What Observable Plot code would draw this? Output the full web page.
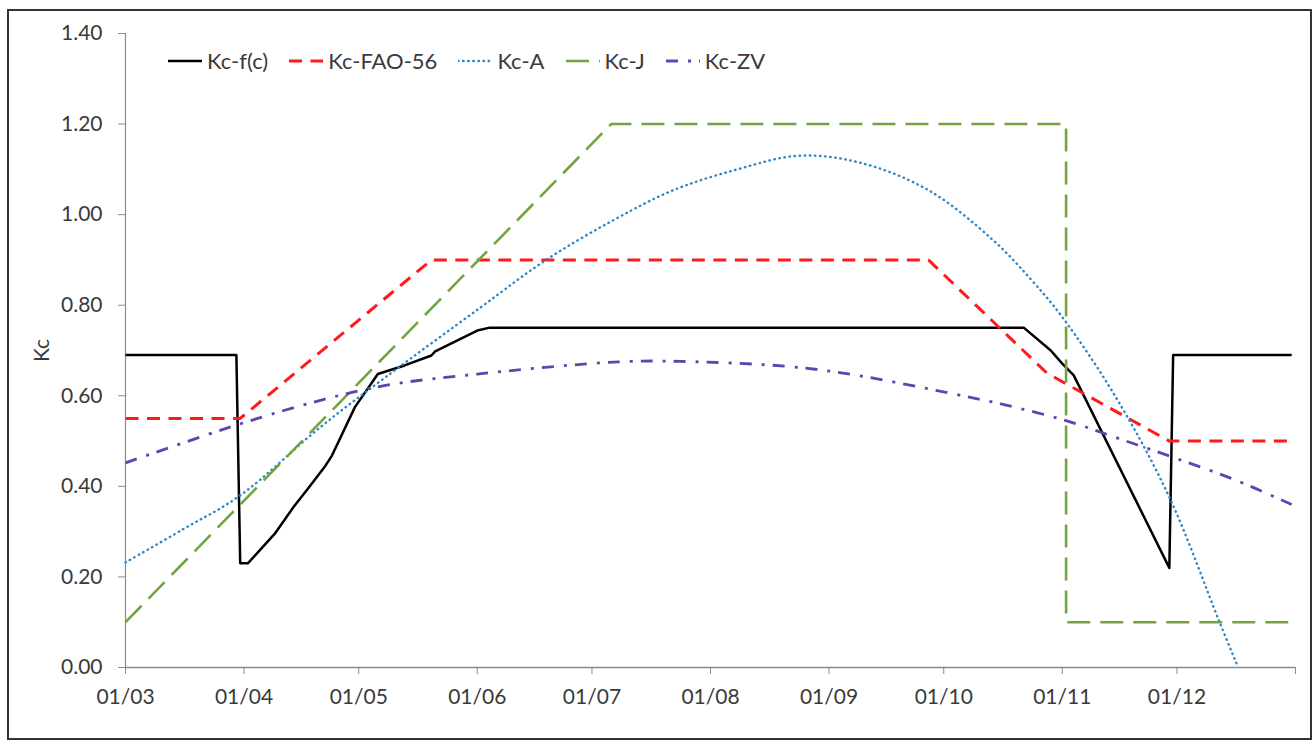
<!DOCTYPE html>
<html>
<head>
<meta charset="utf-8">
<script src="https://cdn.jsdelivr.net/npm/d3@7"></script>
<script src="https://cdn.jsdelivr.net/npm/@observablehq/plot@0.6"></script>
<style>
  body { margin: 0; background: #fff; }
  #wrap { position: relative; width: 1312px; height: 740px; overflow: hidden; font-family: Lato, sans-serif; }
  #chart { position: absolute; left: 0; top: 0; }
  #frame { position: absolute; left: 7px; top: 9px; width: 1305px; height: 731px; border: 2px solid #333; box-sizing: border-box; pointer-events: none; z-index: 2; }
  #legend { position: absolute; left: 168px; top: 48px; display: flex; align-items: center; gap: 21px; font-size: 22px; line-height: 26px; color: #3a3a3a; z-index: 3; }
  .item { display: flex; align-items: center; }
  .item svg { margin-right: 5px; }
</style>
</head>
<body>
<div id="wrap">
  <div id="chart"></div>
  <div id="legend"></div>
  <div id="frame"></div>
</div>
<script>
// ---------------- data ----------------
const seriesNames = ["Kc-f(c)", "Kc-FAO-56", "Kc-A", "Kc-J", "Kc-ZV"];

const fcDates  = ["2023-03-01","2023-03-30","2023-03-31","2023-04-02","2023-04-09","2023-04-14","2023-04-18","2023-04-22","2023-04-24","2023-04-30","2023-05-06","2023-05-13","2023-05-20","2023-05-21","2023-06-01","2023-06-04","2023-10-22","2023-10-29","2023-11-01","2023-11-04","2023-11-29","2023-11-30","2023-12-31"];
const fcValues = [0.69,0.69,0.23,0.23,0.295,0.355,0.398,0.442,0.468,0.575,0.648,0.667,0.689,0.698,0.744,0.75,0.75,0.70,0.671,0.645,0.22,0.69,0.69];

const faoDates  = ["2023-03-01","2023-03-31","2023-05-20","2023-09-27","2023-10-28","2023-11-29","2023-12-31"];
const faoValues = [0.55,0.55,0.90,0.90,0.65,0.50,0.50];

const aDates  = ["2023-03-01","2023-03-16","2023-03-31","2023-04-21","2023-05-08","2023-06-02","2023-06-19","2023-07-06","2023-07-22","2023-08-08","2023-08-24","2023-09-09","2023-09-27","2023-10-14","2023-10-24","2023-11-01","2023-11-15","2023-11-29","2023-12-12","2023-12-17"];
const aValues = [0.232,0.305,0.38,0.531,0.641,0.796,0.90,0.985,1.053,1.10,1.13,1.115,1.054,0.943,0.855,0.774,0.597,0.376,0.103,0.0];

const jDates  = ["2023-03-01","2023-07-06","2023-11-02","2023-11-02","2023-12-31"];
const jValues = [0.10,1.20,1.20,0.10,0.10];

const zvDates  = ["2023-03-01","2023-03-31","2023-04-21","2023-05-08","2023-06-01","2023-07-08","2023-07-24","2023-08-21","2023-09-07","2023-10-03","2023-10-17","2023-11-02","2023-11-16","2023-11-30","2023-12-16","2023-12-31"];
const zvValues = [0.452,0.538,0.59,0.623,0.648,0.675,0.676,0.665,0.647,0.605,0.58,0.545,0.505,0.464,0.415,0.36];

const xTickDates  = ["2023-03-01","2023-04-01","2023-05-01","2023-06-01","2023-07-01","2023-08-01","2023-09-01","2023-10-01","2023-11-01","2023-12-01","2024-01-01"];
const xTickLabels = ["01/03","01/04","01/05","01/06","01/07","01/08","01/09","01/10","01/11","01/12",""];
const yTicks = [0, 0.2, 0.4, 0.6, 0.8, 1.0, 1.2, 1.4];
const yLabel = "Kc";

// ---------------- styles ----------------
const styles = [
  {stroke: "#000000", strokeWidth: 2.5, dash: null, cap: "butt", curve: "linear"},
  {stroke: "#ff1a1a", strokeWidth: 3, dash: "13,8.5", cap: "butt", curve: "linear"},
  {stroke: "#2f86c4", strokeWidth: 2.4, dash: "0.5,4.6", cap: "round", curve: "catmull-rom"},
  {stroke: "#72a540", strokeWidth: 2.6, dash: "23,10", cap: "butt", curve: "linear"},
  {stroke: "#6244ad", strokeWidth: 2.8, dash: "12,10,3,8", cap: "butt", curve: "catmull-rom"}
];

const toRows = (dates, values) => dates.map((d, i) => ({date: new Date(d), value: values[i]}));
const series = [
  toRows(fcDates, fcValues),
  toRows(faoDates, faoValues),
  toRows(aDates, aValues),
  toRows(jDates, jValues),
  toRows(zvDates, zvValues)
];
const xTicks = xTickDates.map(d => new Date(d));
const xStart = xTicks[0], xEnd = xTicks[xTicks.length - 1];

const axisColor = "#8a8a8a";
const textColor = "#3a3a3a";

const chart = Plot.plot({
  width: 1312,
  height: 740,
  marginLeft: 125,
  marginRight: 17,
  marginTop: 33,
  marginBottom: 73,
  style: {fontFamily: "Lato, sans-serif", fontSize: "21px", color: textColor, background: "transparent", overflow: "visible"},
  x: {type: "utc", domain: [xStart, xEnd]},
  y: {domain: [0, 1.4]},
  marks: [
    Plot.ruleX([xStart], {stroke: axisColor, strokeWidth: 1.2}),
    Plot.ruleY([0], {stroke: axisColor, strokeWidth: 1.6}),
    Plot.axisY({
      ticks: yTicks, tickFormat: d => d.toFixed(2), tickSize: 7, tickPadding: 16,
      stroke: axisColor, fill: textColor, fontSize: 21, label: null
    }),
    Plot.axisX({
      ticks: xTicks, tickFormat: (d, i) => xTickLabels[xTicks.findIndex(t => +t === +d)],
      tickSize: 7, tickPadding: 15, stroke: axisColor, fill: textColor, fontSize: 21, label: null
    }),
    Plot.text([yLabel], {
      frameAnchor: "left", dx: -83, rotate: -90, text: d => d,
      fill: textColor, fontSize: 21, textAnchor: "middle", lineAnchor: "middle"
    }),
    ...series.map((rows, i) => Plot.line(rows, {
      x: "date", y: "value",
      stroke: styles[i].stroke, strokeWidth: styles[i].strokeWidth,
      strokeDasharray: styles[i].dash, strokeLinecap: styles[i].cap,
      strokeLinejoin: "round", curve: styles[i].curve
    }))
  ]
});
document.getElementById("chart").appendChild(chart);

// ---------------- legend ----------------
const legend = document.getElementById("legend");
seriesNames.forEach((name, i) => {
  const s = styles[i];
  const item = document.createElement("div");
  item.className = "item";
  const w = 34;
  item.innerHTML =
    `<svg width="${w}" height="10"><line x1="0" y1="5" x2="${w}" y2="5" stroke="${s.stroke}" stroke-width="${s.strokeWidth}" ` +
    (s.dash ? `stroke-dasharray="${s.dash}" ` : "") +
    `stroke-linecap="${s.cap}"/></svg><span>${name}</span>`;
  legend.appendChild(item);
});
</script>
</body>
</html>
